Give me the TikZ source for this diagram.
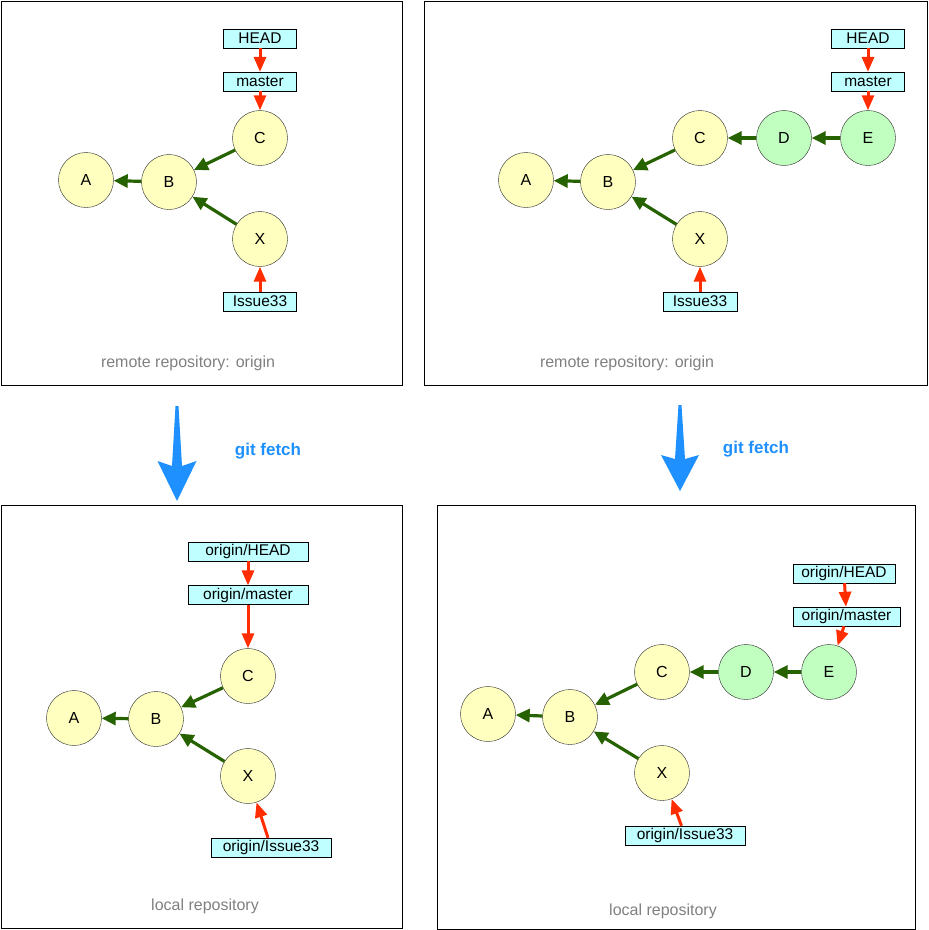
\documentclass[tikz,border=0pt]{standalone}
\usepackage{fontspec}
\setmainfont{Liberation Sans}
\usetikzlibrary{positioning,arrows.meta}
\definecolor{commityellow}{RGB}{255,255,192}
\definecolor{commitgreen}{RGB}{192,255,192}
\definecolor{refcyan}{RGB}{192,255,255}
\definecolor{parentgreen}{RGB}{38,98,0}
\definecolor{refred}{RGB}{255,45,0}
\definecolor{fetchblue}{RGB}{30,144,255}
\tikzset{
	commit/.style={circle,draw=black!85,fill=commityellow,minimum size=55pt,inner sep=0pt,font=\fontsize{16}{18}\selectfont},
	newcommit/.style={commit,fill=commitgreen},
	branch/.style={draw=black,fill=refcyan,minimum height=19pt,inner sep=0pt,font=\fontsize{15.5}{18}\selectfont},
	parentarrow/.style={parentgreen,line width=3.2pt,-{Triangle[length=14pt,width=13pt]}},
	refarrow/.style={refred,line width=3pt,-{Triangle[length=15pt,width=12pt]}},
	repobox/.style={draw=black,line width=0.9pt},
	repolabel/.style={text=black!50,font=\fontsize{16}{19}\selectfont},
	fetchlabel/.style={text=fetchblue,font=\bfseries\fontsize{17}{19}\selectfont},
}

\begin{document}
\begin{tikzpicture}[x=1pt,y=-1pt]
		\useasboundingbox (0,0) rectangle (929,930);
		% remote, before
		\draw[repobox] (1,1) rectangle (402,385);
		\node[commit] (A1) at (86,180) {A};
		\node[commit] (B1) at (169,182) {B};
		\node[commit] (C1) at (260,138) {C};
		\node[commit] (X1) at (260,239) {X};
		\node[branch,minimum width=73pt,above=19pt of C1] (master1) {master};
		\node[branch,minimum width=73pt,above=24pt of master1] (head1) {HEAD};
		\node[branch,minimum width=73pt,below=25pt of X1] (iss1) {Issue33};
		\node[repolabel] (cap1) at (188,363) {remote repository: origin};
		
		\draw[parentarrow] (B1)--(A1);
		\draw[parentarrow] (C1)--(B1);
		\draw[parentarrow] (X1)--(B1);
		\draw[refarrow] (head1)--(master1);
		\draw[refarrow] (master1)--(C1);
		\draw[refarrow] (iss1)--(X1);
		
		% remote, after
		\draw[repobox] (424,1) rectangle (927,385.5);
		\node[commit] (A2) at (526,180) {A};
		\node[commit] (B2) at (608,182) {B};
		\node[commit] (C2) at (700,138) {C};
		\node[newcommit] (D2) at (784,138) {D};
		\node[newcommit] (E2) at (868,138) {E};
		\node[commit] (X2) at (700,239) {X};
		\node[branch,minimum width=73pt,above=19pt of E2] (master2) {master};
		\node[branch,minimum width=73pt,above=24pt of master2] (head2) {HEAD};
		\node[branch,minimum width=74pt,below=25pt of X2] (iss2) {Issue33};
		\node[repolabel] (cap2) at (627,363) {remote repository: origin};
		
		\draw[parentarrow] (B2)--(A2);
		\draw[parentarrow] (C2)--(B2);
		\draw[parentarrow] (X2)--(B2);
		\draw[parentarrow] (D2)--(C2);
		\draw[parentarrow] (E2)--(D2);
		\draw[refarrow] (head2)--(master2);
		\draw[refarrow] (master2)--(E2);
		\draw[refarrow] (iss2)--(X2);
		
		% fetch
		\fill[fetchblue] (175.5,406)--(172,466)--(157.5,461)--(177,501)--(196.5,461)--(182,466)--(178.5,406)--cycle;
		\node[fetchlabel] (fetch1) at (268,451) {git fetch};
		\fill[fetchblue] (678.5,405)--(675,459)--(661,455)--(680,491)--(699,455)--(685,459)--(681.5,405)--cycle;
		\node[fetchlabel] (fetch2) at (756,449) {git fetch};
		
		% local, before
		\draw[repobox] (1,505) rectangle (402,928);
		\node[commit] (A3) at (74,718) {A};
		\node[commit] (B3) at (156,719) {B};
		\node[commit] (C3) at (248,676) {C};
		\node[commit] (X3) at (248,776) {X};
		\node[branch,minimum width=120pt,above=43.5pt of C3] (master3) {origin/master};
		\node[branch,minimum width=120pt,above=24pt of master3] (head3) {origin/HEAD};
		\node[branch,minimum width=120pt] (iss3) at (271,847.5) {origin/Issue33};
		\node[repolabel] (cap3) at (205,906) {local repository};
		
		\draw[parentarrow] (B3)--(A3);
		\draw[parentarrow] (C3)--(B3);
		\draw[parentarrow] (X3)--(B3);
		\draw[refarrow] (head3)--(master3);
		\draw[refarrow] (master3)--(C3);
		\draw[refarrow] ([xshift=-3pt]iss3.north)--(X3);
		
		% local, after
		\draw[repobox] (437,505) rectangle (915,929);
		\node[commit] (A4) at (488,714) {A};
		\node[commit] (B4) at (570,717) {B};
		\node[commit] (C4) at (662,672) {C};
		\node[newcommit] (D4) at (746,672) {D};
		\node[newcommit] (E4) at (829,672) {E};
		\node[commit] (X4) at (662,773) {X};
		\node[branch,minimum width=102pt] (head4) at (844,573.5) {origin/HEAD};
		\node[branch,minimum width=107pt] (master4) at (846.5,616.5) {origin/master};
		\node[branch,minimum width=120pt] (iss4) at (685,835.5) {origin/Issue33};
		\node[repolabel] (cap4) at (663,911) {local repository};
		
		\draw[parentarrow] (B4)--(A4);
		\draw[parentarrow] (C4)--(B4);
		\draw[parentarrow] (X4)--(B4);
		\draw[parentarrow] (D4)--(C4);
		\draw[parentarrow] (E4)--(D4);
		\draw[refarrow] (head4)--(master4);
		\draw[refarrow] ([xshift=-2.5pt]master4.south)--(E4);
		\draw[refarrow] ([xshift=-3.5pt]iss4.north)--(X4);
	\end{tikzpicture}
\end{document}
